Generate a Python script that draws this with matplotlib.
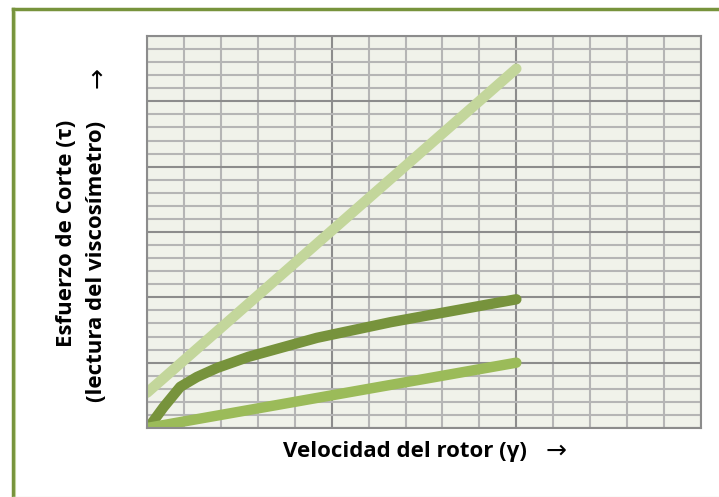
import matplotlib.pyplot as plt
from matplotlib.lines import Line2D
import numpy as np

# Curve data (x: rotor speed, y: shear stress)
gamma_plastic = [0, 2.0]
tau_plastic = [0.54, 5.5]

gamma_pseudo = [0, 0.02, 0.09, 0.18, 0.27, 0.38, 0.55, 0.92, 1.32, 2.0]
tau_pseudo = [0, 0.05, 0.32, 0.63, 0.78, 0.92, 1.09, 1.38, 1.62, 1.97]

gamma_newton = [0, 2.0]
tau_newton = [0, 1.0]

fig = plt.figure(figsize=(7.19, 4.97), dpi=100)
ax = fig.add_axes([147 / 719, 1 - 428 / 497, (701 - 147) / 719, (428 - 36) / 497])
ax.set_facecolor('#F0F2EA')

ax.set_xlim(0, 3)
ax.set_ylim(0, 6)
ax.set_xticks(np.arange(0, 3.01, 1))
ax.set_xticks(np.arange(0, 3.01, 0.2), minor=True)
ax.set_yticks(np.arange(0, 6.01, 1))
ax.set_yticks(np.arange(0, 6.01, 0.2), minor=True)
ax.tick_params(which='both', length=0, labelbottom=False, labelleft=False)
ax.grid(which='minor', color='#B5B5B5', lw=1.5)
ax.grid(which='major', color='#8C8C8C', lw=1.5)
ax.set_axisbelow(True)
for s in ax.spines.values():
    s.set_color('#8C8C8C')
    s.set_linewidth(1.5)

ax.plot(gamma_plastic, tau_plastic, color='#C3D69B', lw=7.5, solid_capstyle='round')
ax.plot(gamma_pseudo, tau_pseudo, color='#77933C', lw=7.5, solid_capstyle='round',
        solid_joinstyle='round')
ax.plot(gamma_newton, tau_newton, color='#9BBB59', lw=7.5, solid_capstyle='round')

font = ['Open Sans', 'DejaVu Sans']
fig.text(66 / 719, 1 - 233 / 497, 'Esfuerzo de Corte (τ)', rotation=90, ha='center',
         va='center', fontsize=16, fontweight='bold', family=font)
fig.text(97 / 719, 1 - 261 / 497, '(lectura del viscosímetro)', rotation=90, ha='center',
         va='center', fontsize=16, fontweight='bold', family=font)
fig.text(97 / 719, 1 - 77 / 497, '→', rotation=90, ha='center', va='center',
         fontsize=18, family='DejaVu Sans')
fig.text(405 / 719, 1 - 451 / 497, 'Velocidad del rotor (γ)', ha='center', va='center',
         fontsize=16, fontweight='bold', family=font)
fig.text(556 / 719, 1 - 451 / 497, '→', ha='center', va='center',
         fontsize=18, family='DejaVu Sans')

# chart frame (left and top edges visible)
x0 = 12.5 / 719
y0 = 1 - 8.5 / 497
fig.add_artist(Line2D([x0, x0], [0, y0], transform=fig.transFigure, color='#77933C', lw=2.5))
fig.add_artist(Line2D([x0, 1], [y0, y0], transform=fig.transFigure, color='#77933C', lw=2.5))
fig.add_artist(Line2D([x0 + 2.5 / 719, x0 + 2.5 / 719], [0, y0 - 2 / 497],
                      transform=fig.transFigure, color='#C3D69B', lw=0.8))
fig.add_artist(Line2D([x0, 1], [0.5 / 497, 0.5 / 497], transform=fig.transFigure,
                      color='#ECEEE4', lw=1))

fig.savefig('out.png', dpi=100)
